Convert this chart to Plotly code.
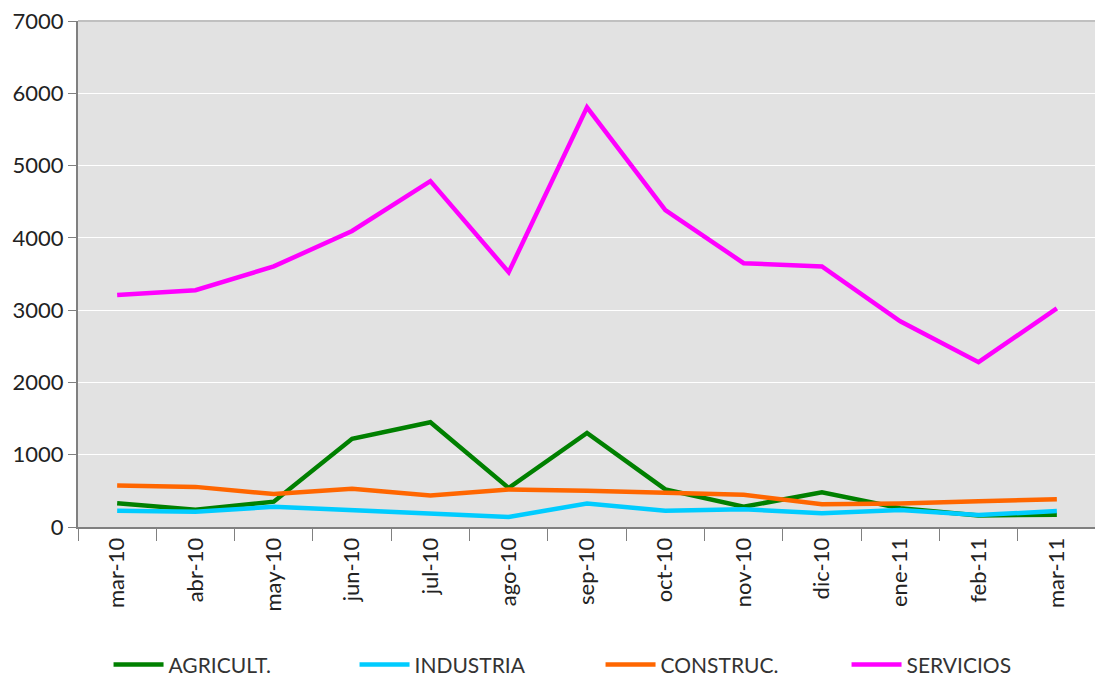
import plotly.graph_objects as go

months = ["mar-10", "abr-10", "may-10", "jun-10", "jul-10", "ago-10", "sep-10",
          "oct-10", "nov-10", "dic-10", "ene-11", "feb-11", "mar-11"]

agricult = [330, 240, 350, 1220, 1450, 540, 1300, 520, 280, 480, 260, 160, 170]
industria = [225, 210, 280, 235, 200, 140, 325, 225, 245, 190, 235, 165, 220]
construc = [575, 555, 455, 530, 435, 520, 500, 465, 445, 315, 325, 355, 385]
servicios = [3210, 3275, 3605, 4095, 4785, 3525, 5805, 4385, 3650, 3605, 2845, 2280, 3025]

series = [
    ("AGRICULT.", agricult, "#008000"),
    ("INDUSTRIA", industria, "#00ccff"),
    ("CONSTRUC.", construc, "#ff6600"),
    ("SERVICIOS", servicios, "#ff00ff"),
]

fig = go.Figure()
for name, vals, col in series:
    fig.add_trace(go.Scatter(x=months, y=vals, name=name, mode="lines",
                             line=dict(color=col, width=4.5)))

font_family = "Lato, Open Sans, sans-serif"
fig.update_layout(
    width=1095, height=669,
    margin=dict(l=70, r=7, t=13, b=150, autoexpand=False),
    paper_bgcolor="white",
    plot_bgcolor="#e2e2e2",
    font=dict(family=font_family, size=22, color="#222222"),
    showlegend=True,
    legend=dict(orientation="h", x=0.03, xanchor="left",
                yref="container", y=0.018, yanchor="middle",
                entrywidth=181, entrywidthmode="pixels", itemwidth=50,
                font=dict(size=21, color="#333333"),
                bgcolor="rgba(0,0,0,0)"),
)
fig.update_xaxes(
    type="category", tickangle=-90, showgrid=False, automargin=False,
    range=[-0.5, 12.5],
    showline=True, linecolor="#808080", linewidth=2,
    ticks="outside", tickson="boundaries", ticklen=12, tickcolor="#808080",
    tickfont=dict(size=22, color="#222222"),
)
fig.update_yaxes(
    range=[0, 7000], dtick=1000, showgrid=True, gridcolor="white", gridwidth=1,
    showline=True, linecolor="#808080", linewidth=2, automargin=False,
    ticklabeloverflow="allow",
    ticks="outside", ticklen=8, tickcolor="#808080",
    tickfont=dict(size=22, color="#222222"), zeroline=False,
)
fig.add_shape(type="line", xref="paper", yref="paper", x0=0, x1=1, y0=1, y1=1,
              line=dict(color="#c0c0c0", width=2))
fig.write_html("out.html")
